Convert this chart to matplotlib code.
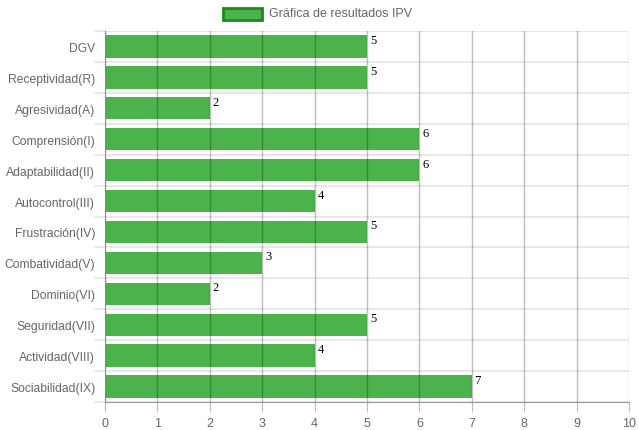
import matplotlib
matplotlib.use("Agg")
import matplotlib.pyplot as plt
from matplotlib.patches import Rectangle
import numpy as np

categories = ["DGV", "Receptividad(R)", "Agresividad(A)", "Comprensión(I)",
              "Adaptabilidad(II)", "Autocontrol(III)", "Frustración(IV)",
              "Combatividad(V)", "Dominio(VI)", "Seguridad(VII)",
              "Actividad(VIII)", "Sociabilidad(IX)"]
values = [5, 5, 2, 6, 6, 4, 5, 3, 2, 5, 4, 7]
x_ticks = list(range(0, 11))
legend_label = "Gráfica de resultados IPV"

bar_color = "#4cb34c"
edge_dark = "#1a8a1a"
text_gray = "#666666"

plt.rcParams['font.family'] = ['Liberation Sans', 'DejaVu Sans']

fig = plt.figure(figsize=(6.39, 4.31), dpi=100)
ax = fig.add_axes([105 / 639, 1 - 403 / 431, 524 / 639, 371 / 431])

n = len(categories)
y = np.arange(n)
ax.barh(y, values, height=0.72, color=bar_color, zorder=2)

# value labels, serif, at bar end
for yi, v in zip(y, values):
    ax.annotate(str(v), (v, yi - 0.36), xytext=(2, 1), textcoords="offset points",
                ha="left", va="top", fontsize=9, family="Liberation Serif",
                color="black", zorder=4)

ax.set_xlim(0, 10)
ax.set_ylim(n - 0.5, -0.5)
ax.set_xticks(x_ticks)
ax.set_yticks(y)
ax.set_yticklabels(categories)

# vertical grid lines over bars
for xv in x_ticks:
    ax.axvline(xv, color="black", alpha=0.25, lw=1, zorder=3)
# horizontal grid lines at category boundaries
for b in np.arange(-0.5, n + 0.5, 1):
    ax.axhline(b, color="#e6e6e6", lw=1.3, zorder=1)
    ax.plot([-0.19, 0], [b, b], color="#e6e6e6", lw=1.3, clip_on=False, zorder=1)

for s in ["top", "right"]:
    ax.spines[s].set_visible(False)
ax.spines["left"].set_color("#bbbbbb")
ax.spines["bottom"].set_color("#999999")
ax.tick_params(axis="x", colors="#bbbbbb", labelcolor=text_gray, length=7, labelsize=9)
ax.tick_params(axis="y", length=0, labelcolor=text_gray, labelsize=8.7, pad=7)

# legend
fig.patches.append(Rectangle((223 / 639, 1 - 21 / 431), 39 / 639, 12 / 431,
                             transform=fig.transFigure, facecolor=bar_color,
                             edgecolor=edge_dark, lw=2))
fig.text(269 / 639, 1 - 14 / 431, legend_label, ha="left", va="center",
         fontsize=9, color=text_gray)

plt.savefig("out.png", dpi=100)
plt.close()
